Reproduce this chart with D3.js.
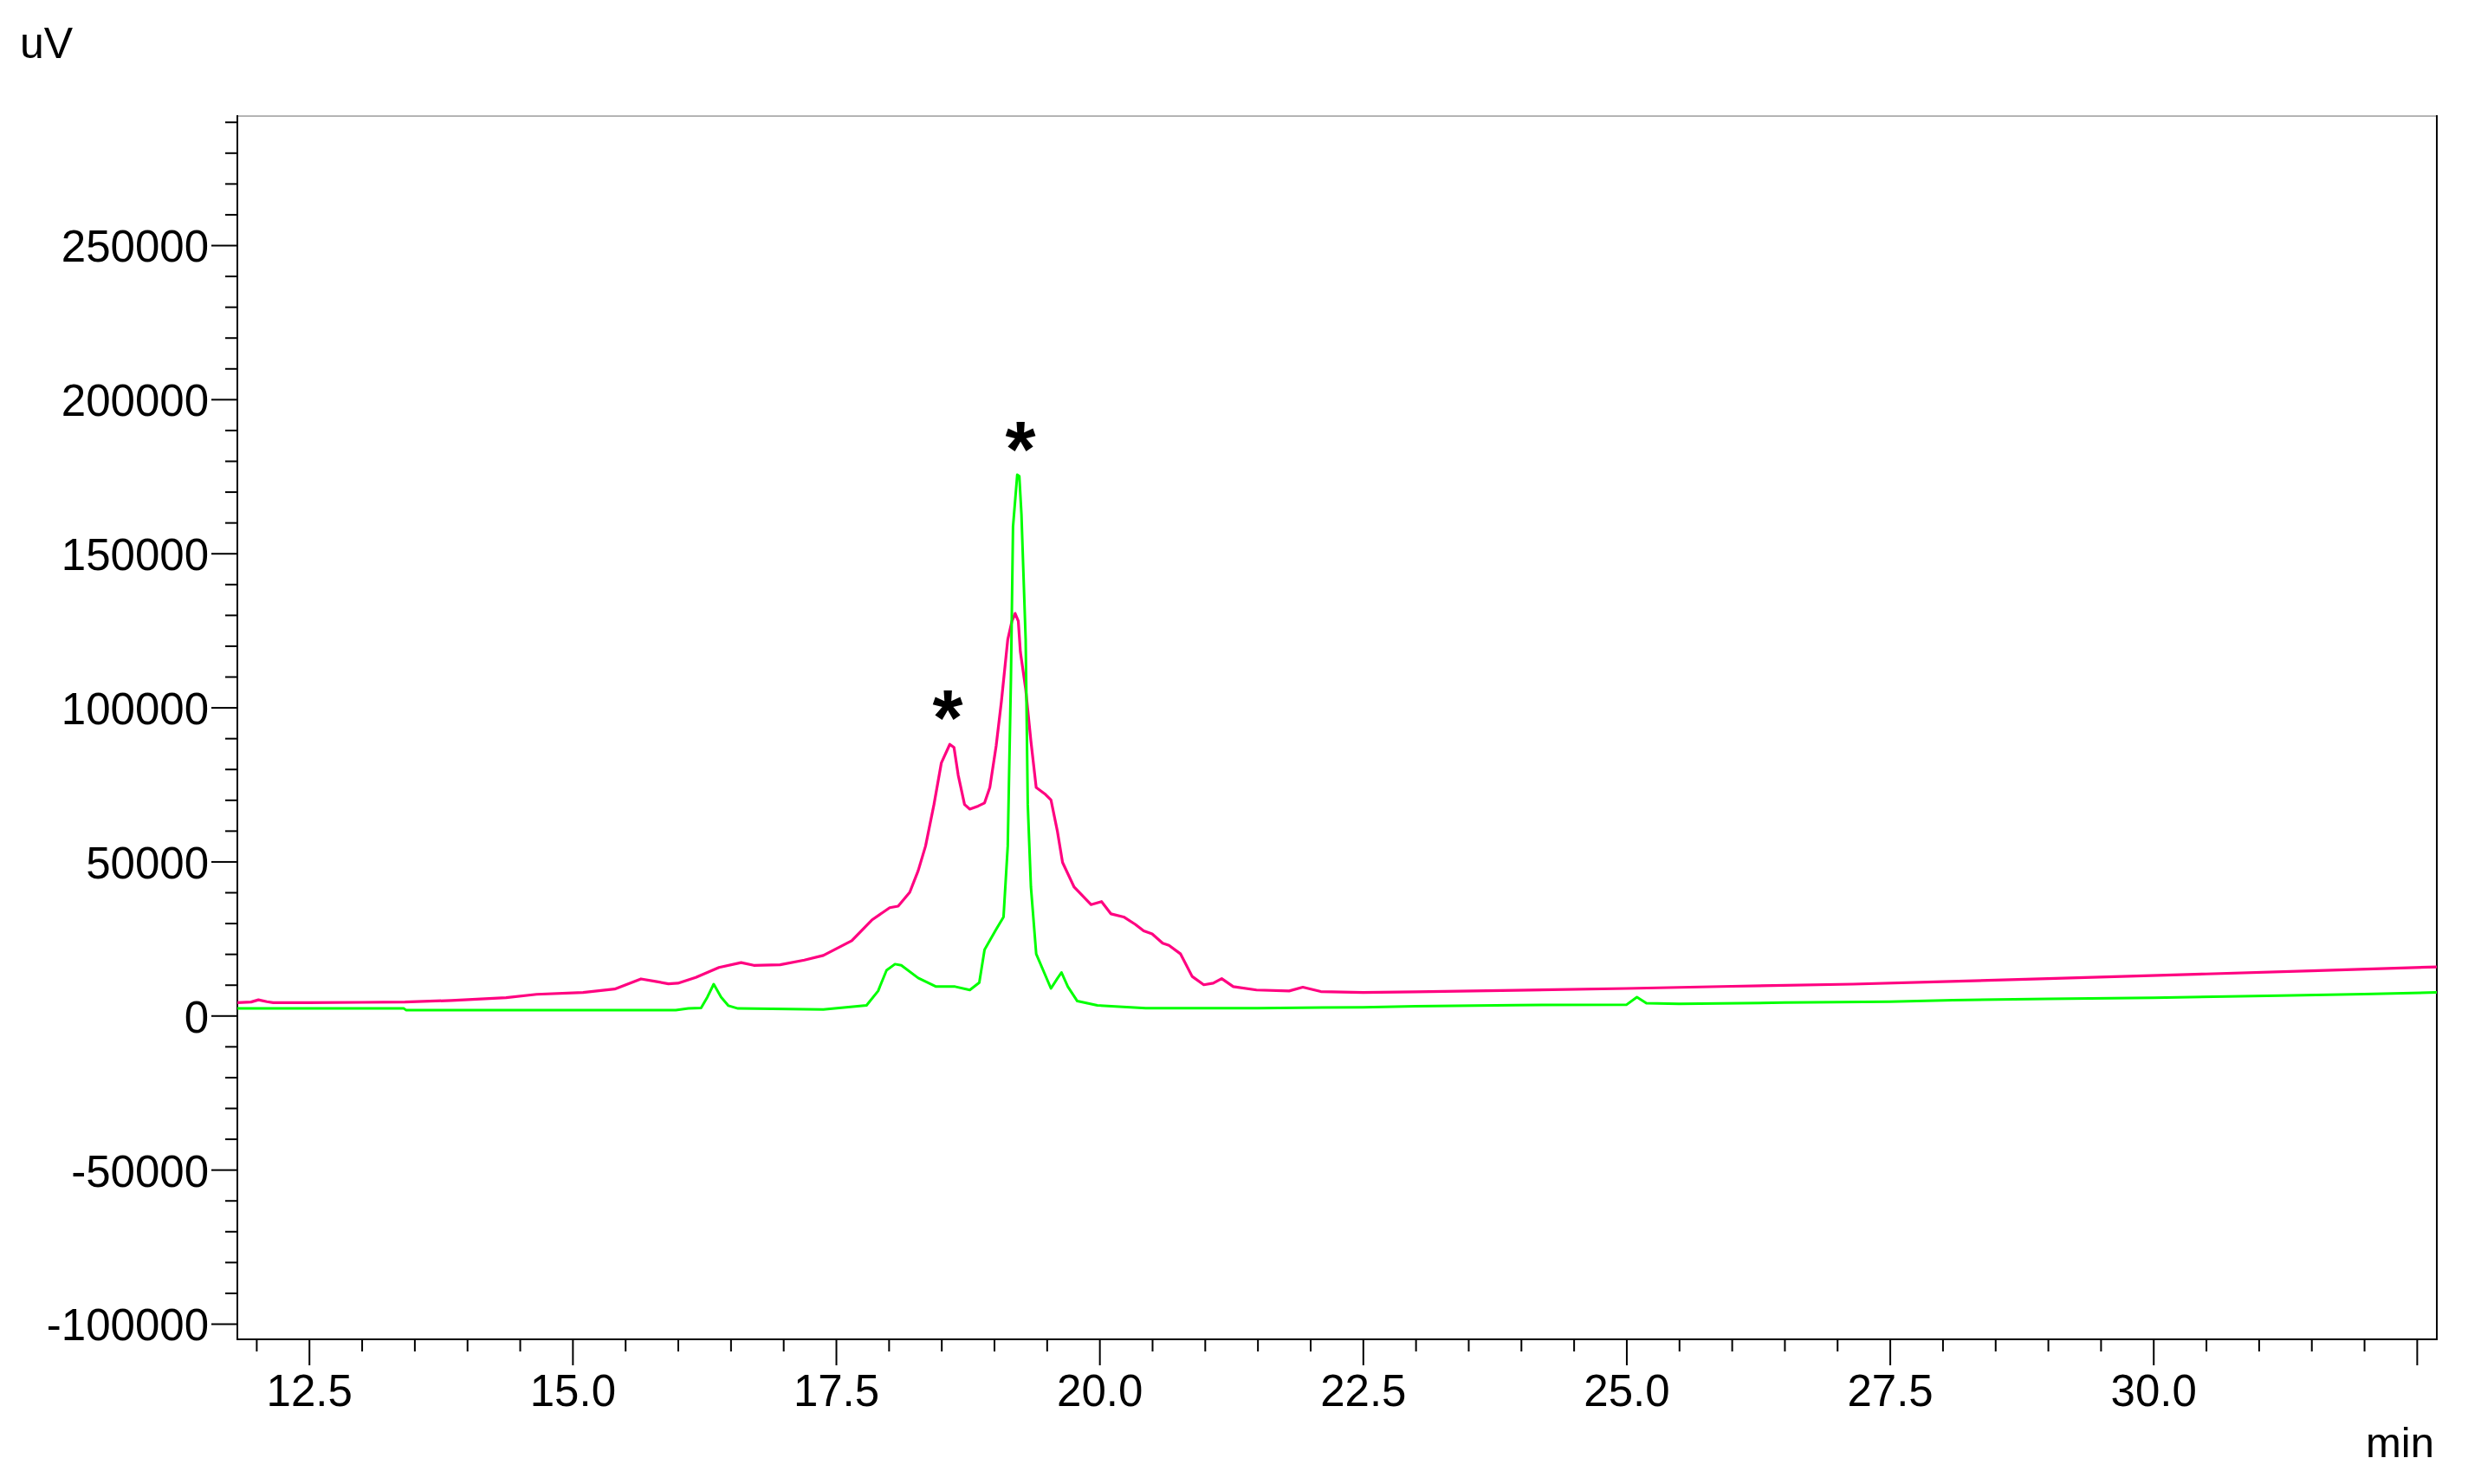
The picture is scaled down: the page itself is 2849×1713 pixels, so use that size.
<!DOCTYPE html>
<html>
<head>
<meta charset="utf-8">
<script src="https://cdn.jsdelivr.net/npm/d3@7"></script>
<style>
  html, body { margin: 0; padding: 0; background: #fff; }
  svg { display: block; }
  text { font-family: "Liberation Sans", Arial, sans-serif; fill: #000; }
</style>
</head>
<body>
<svg id="chart" width="2849" height="1713"></svg>
<script>
// ---- Data (time in min, signal in uV) ----
const pinkTimes = [11.82, 11.95, 12.02, 12.10, 12.16, 12.5, 13.0, 13.41, 13.85, 14.37, 14.66, 15.10, 15.40, 15.65, 15.80, 15.91, 16.00, 16.17, 16.39, 16.60, 16.72, 16.97, 17.20, 17.38, 17.65, 17.84, 18.01, 18.09, 18.20, 18.28, 18.35, 18.43, 18.50, 18.58, 18.62, 18.66, 18.72, 18.77, 18.85, 18.91, 18.96, 19.02, 19.07, 19.13, 19.17, 19.20, 19.23, 19.25, 19.30, 19.35, 19.40, 19.48, 19.54, 19.60, 19.65, 19.76, 19.92, 20.02, 20.11, 20.23, 20.34, 20.42, 20.50, 20.60, 20.66, 20.77, 20.88, 20.99, 21.08, 21.16, 21.27, 21.49, 21.80, 21.93, 22.10, 22.50, 23.00, 23.95, 25.00, 26.00, 27.15, 28.00, 29.00, 29.70, 30.50, 31.50, 32.69];
const pinkValues = [4200, 4400, 5100, 4500, 4200, 4200, 4300, 4400, 4900, 5800, 6900, 7500, 8600, 11900, 11000, 10300, 10500, 12400, 15600, 17200, 16300, 16500, 18000, 19500, 24300, 31000, 35000, 35500, 40000, 47000, 55000, 68500, 82000, 88000, 87000, 78000, 68500, 67000, 68000, 69000, 74000, 87500, 102000, 122000, 128000, 130500, 128000, 118000, 106000, 89000, 74000, 72000, 70000, 60000, 49700, 41700, 36000, 37000, 33000, 32000, 29600, 27500, 26500, 23500, 22800, 20000, 12700, 10000, 10500, 12000, 9400, 8300, 8000, 9200, 7800, 7500, 7700, 8200, 8800, 9500, 10200, 11000, 12000, 12700, 13500, 14500, 15800];

const greenTimes = [11.82, 13.40, 13.42, 15.98, 16.10, 16.22, 16.28, 16.34, 16.41, 16.48, 16.57, 17.38, 17.79, 17.90, 17.98, 18.06, 18.12, 18.28, 18.45, 18.63, 18.77, 18.86, 18.91, 19.02, 19.09, 19.13, 19.16, 19.18, 19.22, 19.24, 19.26, 19.30, 19.32, 19.35, 19.40, 19.54, 19.60, 19.64, 19.70, 19.79, 19.98, 20.44, 21.50, 22.50, 23.00, 23.95, 25.00, 25.10, 25.19, 25.50, 26.50, 27.50, 28.10, 29.00, 30.00, 31.20, 32.00, 32.69];
const greenValues = [2300, 2300, 1800, 1800, 2300, 2500, 6000, 10200, 6000, 3200, 2300, 2000, 3300, 8000, 14700, 16700, 16300, 12200, 9400, 9400, 8300, 10700, 21400, 28000, 32000, 55000, 109000, 158600, 175500, 175000, 162700, 122000, 68500, 41700, 20000, 8800, 12000, 14000, 9400, 4700, 3300, 2400, 2400, 2700, 3000, 3400, 3500, 6000, 4000, 3800, 4200, 4500, 5000, 5400, 5800, 6500, 7000, 7500];

const markTimes = [18.56, 19.25];
const markValues = [102000, 189000];
const markLabels = ["*", "*"];

const xMajorTicks = [12.5, 15.0, 17.5, 20.0, 22.5, 25.0, 27.5, 30.0, 32.5];
const xTickLabels = ["12.5", "15.0", "17.5", "20.0", "22.5", "25.0", "27.5", "30.0", ""];
const yMajorTicks = [-100000, -50000, 0, 50000, 100000, 150000, 200000, 250000];
const yTickLabels = ["-100000", "-50000", "0", "50000", "100000", "150000", "200000", "250000"];

// ---- Layout ----
const svg = d3.select("#chart");
const L = 274, R = 2813, T = 134, B = 1546;

const x = d3.scaleLinear().domain([11.82, 32.69]).range([L, R]);
const y = d3.scaleLinear().domain([-105060, 291890]).range([B, T]);

// minor tick values
const xMinor = d3.range(12.0, 32.51, 0.5).filter(v => !xMajorTicks.some(m => Math.abs(m - v) < 1e-6));
const yMinor = d3.range(-100000, 290001, 10000).filter(v => v % 50000 !== 0);

// Y axis minor
svg.append("g").attr("transform", `translate(${L},0)`)
  .call(d3.axisLeft(y).tickValues(yMinor).tickSize(14).tickSizeOuter(0).tickFormat(""))
  .call(g => g.select(".domain").remove())
  .call(g => g.selectAll("line").attr("stroke", "#000").attr("stroke-width", 2));

// Y axis major
svg.append("g").attr("transform", `translate(${L},0)`)
  .call(d3.axisLeft(y).tickValues(yMajorTicks).tickSize(30).tickSizeOuter(0).tickPadding(3)
        .tickFormat((d, i) => yTickLabels[i]))
  .call(g => g.select(".domain").remove())
  .call(g => g.selectAll("line").attr("stroke", "#000").attr("stroke-width", 2))
  .call(g => g.selectAll("text").attr("font-size", 51).attr("dy", "0.37em")
        .style("font-family", '"Liberation Sans", Arial, sans-serif').attr("fill", "#000"));

// X axis minor
svg.append("g").attr("transform", `translate(0,${B})`)
  .call(d3.axisBottom(x).tickValues(xMinor).tickSize(14).tickSizeOuter(0).tickFormat(""))
  .call(g => g.select(".domain").remove())
  .call(g => g.selectAll("line").attr("stroke", "#000").attr("stroke-width", 2));

// X axis major
svg.append("g").attr("transform", `translate(0,${B})`)
  .call(d3.axisBottom(x).tickValues(xMajorTicks).tickSize(30).tickSizeOuter(0).tickPadding(11)
        .tickFormat((d, i) => xTickLabels[i]))
  .call(g => g.select(".domain").remove())
  .call(g => g.selectAll("line").attr("stroke", "#000").attr("stroke-width", 2))
  .call(g => g.selectAll("text").attr("font-size", 51)
        .style("font-family", '"Liberation Sans", Arial, sans-serif').attr("fill", "#000"));

// Frame
svg.append("line").attr("x1", L).attr("x2", R).attr("y1", T).attr("y2", T)
  .attr("stroke", "#b4b4b4").attr("stroke-width", 2);
svg.append("line").attr("x1", R).attr("x2", R).attr("y1", T - 1).attr("y2", B + 1)
  .attr("stroke", "#000").attr("stroke-width", 2);
svg.append("line").attr("x1", L).attr("x2", L).attr("y1", T - 1).attr("y2", B + 1)
  .attr("stroke", "#000").attr("stroke-width", 2);
svg.append("line").attr("x1", L - 1).attr("x2", R + 1).attr("y1", B).attr("y2", B)
  .attr("stroke", "#000").attr("stroke-width", 2);

// Traces
const line = d3.line().x(d => x(d[0])).y(d => y(d[1])).curve(d3.curveLinear);
const pinkData = pinkTimes.map((t, i) => [t, pinkValues[i]]);
const greenData = greenTimes.map((t, i) => [t, greenValues[i]]);

svg.append("path").datum(pinkData).attr("d", line)
  .attr("fill", "none").attr("stroke", "#ff0080").attr("stroke-width", 3.2).attr("stroke-linejoin", "round");
svg.append("path").datum(greenData).attr("d", line)
  .attr("fill", "none").attr("stroke", "#00ff00").attr("stroke-width", 3).attr("stroke-linejoin", "round");

// Peak markers
const markSize = 90;
svg.selectAll("text.mark").data(markTimes).enter().append("text")
  .attr("class", "mark")
  .attr("x", d => x(d))
  .attr("y", (d, i) => y(markValues[i]) + markSize * 0.56)
  .attr("text-anchor", "middle")
  .attr("font-size", markSize)
  .attr("font-weight", "bold")
  .text((d, i) => markLabels[i]);

// Unit labels
svg.append("text").attr("x", 23).attr("y", 67).attr("font-size", 50).text("uV");
svg.append("text").attr("x", 2810).attr("y", 1682).attr("text-anchor", "end").attr("font-size", 49).text("min");
</script>
</body>
</html>
